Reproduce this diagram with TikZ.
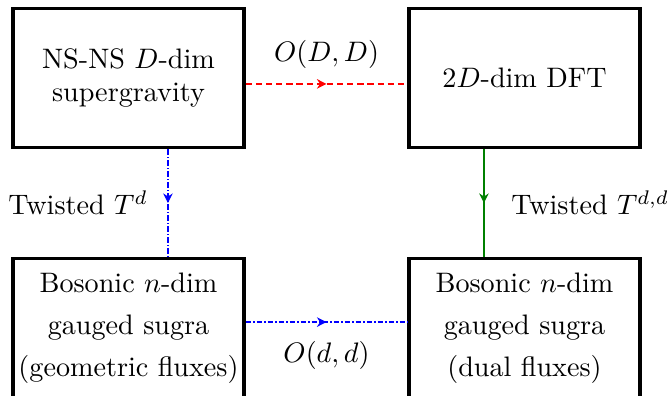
\documentclass[tikz,border=0pt]{standalone}
\usetikzlibrary{arrows.meta,decorations.markings}
\definecolor{flowgreen}{RGB}{0,128,0}
\tikzset{
  box/.style={draw, line width=1.25pt, minimum width=82pt, minimum height=49.5pt,
              align=center, inner sep=0pt},
  conn/.style={line width=0.95pt},
  midarrow/.style={postaction={decorate},
    decoration={markings, mark=at position 0.5 with {\arrow{Stealth[length=3.4pt,width=3.4pt]}}}},
  reddash/.style={conn, red, dash pattern=on 2.2pt off 1.4pt, midarrow},
  bluedashdot/.style={conn, blue, dash pattern=on 2pt off 0.7pt on 0.5pt off 0.7pt, midarrow},
  greensolid/.style={conn, flowgreen, midarrow},
  lbl/.style={text=black, inner sep=3.33pt},
}
\begin{document}
\begin{tikzpicture}[x=0.355pt, y=-0.355pt]
\clip (0,0) rectangle (669,396);

% the four theories
\node[box] (sugra) at (128.5,78) {NS-NS $D$-dim\\supergravity};
\node[box] (dft)   at (524.5,78) {$2D$-dim DFT};
\node[box] (geo)   at (128.5,328) {Bosonic $n$-dim\\[2.9pt]gauged sugra\\[2.9pt](geometric fluxes)};
\node[box] (dual)  at (524.5,328) {Bosonic $n$-dim\\[2.9pt]gauged sugra\\[2.9pt](dual fluxes)};

% horizontal maps
\draw[reddash] ([yshift=-2.1pt]sugra.east) --
  node[lbl, above=1.6pt] {$O(D,D)$} ([yshift=-2.1pt]dft.west);
\draw[bluedashdot] ([yshift=2.1pt]geo.east) --
  node[lbl, below=3pt] {$O(d,d)$} ([yshift=2.1pt]dual.west);

% vertical reductions
\draw[bluedashdot] ([xshift=14pt]sugra.south) --
  node[lbl, left=3.4pt] {Twisted $T^d$} ([xshift=14pt]geo.north);
\draw[greensolid] ([xshift=-14.4pt]dft.south) --
  node[lbl, right=5.9pt] {Twisted $T^{d,d}$} ([xshift=-14.4pt]dual.north);
\end{tikzpicture}
\end{document}
